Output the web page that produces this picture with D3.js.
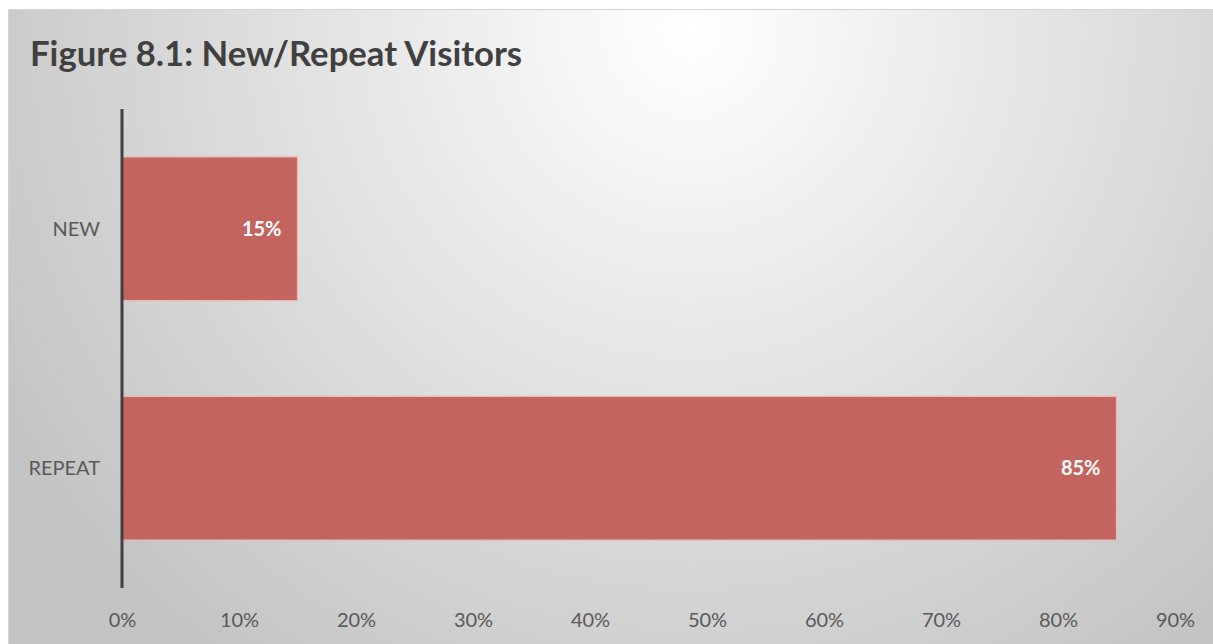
<!DOCTYPE html>
<html>
<head>
<meta charset="utf-8">
<script src="https://cdn.jsdelivr.net/npm/d3@7"></script>
<style>
  html, body { margin: 0; padding: 0; background: #ffffff; }
  svg { display: block; }
</style>
</head>
<body>
<svg id="chart" width="1213" height="644"></svg>
<script>
// Visitor mix by type
const categories = ["NEW", "REPEAT"];
const shares = [0.15, 0.85];
const tickValues = [0, 0.1, 0.2, 0.3, 0.4, 0.5, 0.6, 0.7, 0.8, 0.9];
const titleText = "Figure 8.1: New/Repeat Visitors";

const W = 1213, H = 644;
const FONT = "Lato, 'Open Sans', sans-serif";
const svg = d3.select("#chart");

// Panel background with soft radial shading
const defs = svg.append("defs");
const grad = defs.append("radialGradient")
  .attr("id", "bg")
  .attr("gradientUnits", "userSpaceOnUse")
  .attr("cx", 690).attr("cy", 30).attr("r", 780);
grad.append("stop").attr("offset", "0%").attr("stop-color", "#ffffff");
grad.append("stop").attr("offset", "100%").attr("stop-color", "#c4c4c4");

svg.append("rect")
  .attr("x", 8.5).attr("y", 9.5)
  .attr("width", W - 8).attr("height", H - 9)
  .attr("fill", "url(#bg)")
  .attr("stroke", "#d4d4d4").attr("stroke-width", 1);

const plotLeft = 122, plotRight = 1175, plotTop = 109, plotBottom = 588;

const x = d3.scaleLinear().domain([0, 0.9]).range([plotLeft, plotRight]);
const y = d3.scaleBand().domain(categories).range([plotTop, plotBottom])
  .paddingInner(0.4).paddingOuter(0.2);

// Title
svg.append("text")
  .attr("x", 30).attr("y", 66)
  .attr("font-family", FONT)
  .attr("font-weight", "bold")
  .attr("font-size", 34.7)
  .attr("fill", "#404040")
  .text(titleText);

// Bars
const rows = categories.map((c, i) => ({ cat: c, value: shares[i] }));
svg.append("g").selectAll("rect")
  .data(rows)
  .join("rect")
  .attr("x", x(0))
  .attr("y", d => y(d.cat))
  .attr("width", d => x(d.value) - x(0))
  .attr("height", y.bandwidth())
  .attr("fill", "#c4645f")
  .attr("stroke", "#eab8b5")
  .attr("stroke-width", 1.3);

// Value labels inside bar ends
const fmt = d3.format(".0%");
svg.append("g").selectAll("text")
  .data(rows)
  .join("text")
  .attr("x", d => x(d.value) - 16)
  .attr("y", d => y(d.cat) + y.bandwidth() / 2)
  .attr("dy", "0.36em")
  .attr("text-anchor", "end")
  .attr("font-family", FONT)
  .attr("font-weight", "bold")
  .attr("font-size", 20)
  .attr("fill", "#ffffff")
  .text(d => fmt(d.value));

// Category axis
const yAxis = d3.axisLeft(y).tickSize(0).tickPadding(22);
const gy = svg.append("g")
  .attr("transform", `translate(${plotLeft},0)`)
  .call(yAxis);
gy.select(".domain").remove();
gy.selectAll("text")
  .attr("font-family", FONT)
  .attr("font-size", 20)
  .attr("dy", "0.36em")
  .attr("fill", "#595959");

svg.append("line")
  .attr("x1", plotLeft).attr("x2", plotLeft)
  .attr("y1", plotTop).attr("y2", plotBottom)
  .attr("stroke", "#404040").attr("stroke-width", 3);

// Value axis labels
const xAxis = d3.axisBottom(x).tickValues(tickValues).tickFormat(fmt).tickSize(0).tickPadding(0);
const gx = svg.append("g")
  .attr("transform", `translate(0,${plotBottom + 25})`)
  .call(xAxis);
gx.select(".domain").remove();
gx.selectAll("text")
  .attr("font-family", FONT)
  .attr("font-size", 20)
  .attr("fill", "#595959");
</script>
</body>
</html>
